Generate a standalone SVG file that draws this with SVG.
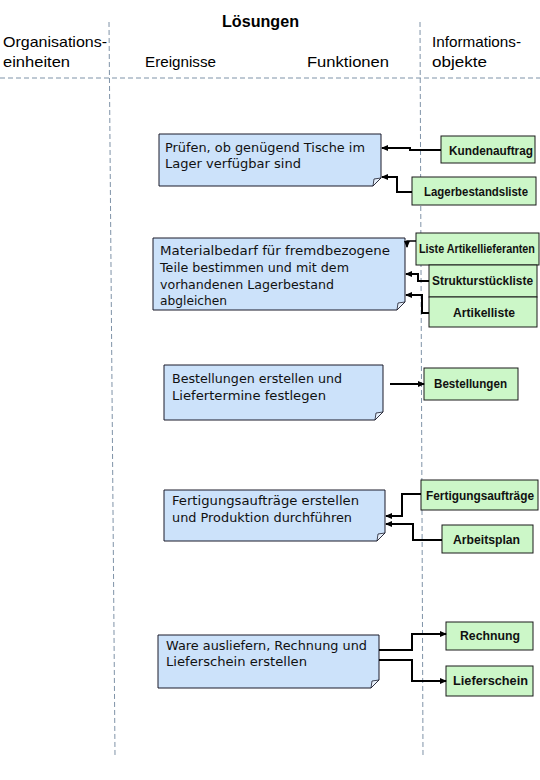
<svg xmlns="http://www.w3.org/2000/svg" width="540" height="780" viewBox="0 0 540 780">
<style>
.hdr{font-family:"Liberation Sans",Arial,sans-serif;font-size:15px;fill:#000}
.ttl{font-family:"Liberation Sans",Arial,sans-serif;font-size:17px;font-weight:bold;fill:#000}
.dash{stroke:#7f93a8;stroke-width:1;stroke-dasharray:5,3;fill:none}
.fn{fill:#cce2fa;stroke:#1a1a2a;stroke-width:1}
.fold{fill:#e8f1fc;stroke:#1a1a2a;stroke-width:0.8}
.ftx{font-family:"DejaVu Sans",Verdana,sans-serif;font-size:12.5px;fill:#111}
.io{fill:#ccf7c8;stroke:#1a1a1a;stroke-width:1}
.itx{font-family:"Liberation Sans",Arial,sans-serif;font-size:12px;font-weight:bold;fill:#111}
.con{stroke:#000;stroke-width:2;fill:none;marker-end:url(#ah)}
</style>
<defs>
<marker id="ah" markerUnits="userSpaceOnUse" markerWidth="7" markerHeight="7" viewBox="0 0 7 7" refX="6" refY="3.5" orient="auto">
<path d="M0,0.5 L7,3.5 L0,6.5 Z" fill="#000"/>
</marker>
</defs>
<rect width="540" height="780" fill="#fff"/>
<g id="grid">
<line class="dash" x1="0" y1="78" x2="540" y2="78"/>
<line class="dash" x1="109" y1="22" x2="115" y2="755"/>
<line class="dash" x1="420" y1="22" x2="423" y2="755"/>
</g>
<g id="headers">
<text class="ttl" x="222" y="27" textLength="77" lengthAdjust="spacingAndGlyphs">Lösungen</text>
<text class="hdr" x="3" y="47" textLength="104" lengthAdjust="spacingAndGlyphs">Organisations-</text>
<text class="hdr" x="3" y="67" textLength="67" lengthAdjust="spacingAndGlyphs">einheiten</text>
<text class="hdr" x="145" y="67" textLength="71" lengthAdjust="spacingAndGlyphs">Ereignisse</text>
<text class="hdr" x="307" y="67" textLength="82" lengthAdjust="spacingAndGlyphs">Funktionen</text>
<text class="hdr" x="432" y="47" textLength="89" lengthAdjust="spacingAndGlyphs">Informations-</text>
<text class="hdr" x="432" y="67" textLength="55" lengthAdjust="spacingAndGlyphs">objekte</text>
</g>
<g id="f1">
<path class="fn" d="M159,134 H381 V178 L373,186 H159 Z"/>
<path class="fold" d="M381,178 L373,186 L374,179 Z"/>
<text class="ftx" x="165" y="152" textLength="200" lengthAdjust="spacingAndGlyphs">Prüfen, ob genügend Tische im</text>
<text class="ftx" x="165" y="168" textLength="136" lengthAdjust="spacingAndGlyphs">Lager verfügbar sind</text>
</g>
<g id="f2">
<path class="fn" d="M153,238 H405 V302 L397,310 H153 Z"/>
<path class="fold" d="M405,302 L397,310 L398,303 Z"/>
<text class="ftx" x="160" y="255" textLength="230" lengthAdjust="spacingAndGlyphs">Materialbedarf für fremdbezogene</text>
<text class="ftx" x="160" y="272" textLength="189" lengthAdjust="spacingAndGlyphs">Teile bestimmen und mit dem</text>
<text class="ftx" x="160" y="289" textLength="174" lengthAdjust="spacingAndGlyphs">vorhandenen Lagerbestand</text>
<text class="ftx" x="160" y="305" textLength="67" lengthAdjust="spacingAndGlyphs">abgleichen</text>
</g>
<g id="f3">
<path class="fn" d="M164,365 H383 V412 L375,420 H164 Z"/>
<path class="fold" d="M383,412 L375,420 L376,413 Z"/>
<text class="ftx" x="172" y="383" textLength="170" lengthAdjust="spacingAndGlyphs">Bestellungen erstellen und</text>
<text class="ftx" x="172" y="400" textLength="154" lengthAdjust="spacingAndGlyphs">Liefertermine festlegen</text>
</g>
<g id="f4">
<path class="fn" d="M164,490 H385 V533 L377,541 H164 Z"/>
<path class="fold" d="M385,533 L377,541 L378,534 Z"/>
<text class="ftx" x="172" y="505" textLength="187" lengthAdjust="spacingAndGlyphs">Fertigungsaufträge erstellen</text>
<text class="ftx" x="172" y="522" textLength="180" lengthAdjust="spacingAndGlyphs">und Produktion durchführen</text>
</g>
<g id="f5">
<path class="fn" d="M158,635 H379 V680 L371,688 H158 Z"/>
<path class="fold" d="M379,680 L371,688 L372,681 Z"/>
<text class="ftx" x="166" y="650" textLength="201" lengthAdjust="spacingAndGlyphs">Ware ausliefern, Rechnung und</text>
<text class="ftx" x="166" y="666" textLength="141" lengthAdjust="spacingAndGlyphs">Lieferschein erstellen</text>
</g>
<g id="i1"><rect class="io" x="441" y="136" width="94" height="27"/><text class="itx" x="449" y="155" textLength="84" lengthAdjust="spacingAndGlyphs">Kundenauftrag</text></g>
<g id="i2"><rect class="io" x="412" y="177" width="124" height="28"/><text class="itx" x="424" y="196" textLength="104" lengthAdjust="spacingAndGlyphs">Lagerbestandsliste</text></g>
<g id="i3"><rect class="io" x="416" y="233" width="123" height="32"/><text class="itx" transform="translate(419,253) scale(0.9,1)" x="0" y="0">Liste Artikellieferanten</text></g>
<g id="i4"><rect class="io" x="429" y="265" width="108" height="32"/><text class="itx" x="432" y="285" textLength="101" lengthAdjust="spacingAndGlyphs">Strukturstückliste</text></g>
<g id="i5"><rect class="io" x="429" y="297" width="108" height="30"/><text class="itx" x="453" y="317" textLength="62" lengthAdjust="spacingAndGlyphs">Artikelliste</text></g>
<g id="i6"><rect class="io" x="424" y="368" width="94" height="32"/><text class="itx" x="434" y="388" textLength="73" lengthAdjust="spacingAndGlyphs">Bestellungen</text></g>
<g id="i7"><rect class="io" x="421" y="480" width="117" height="30"/><text class="itx" x="426" y="500" textLength="108" lengthAdjust="spacingAndGlyphs">Fertigungsaufträge</text></g>
<g id="i8"><rect class="io" x="442" y="525" width="91" height="28"/><text class="itx" x="453" y="544" textLength="67" lengthAdjust="spacingAndGlyphs">Arbeitsplan</text></g>
<g id="i9"><rect class="io" x="446" y="622" width="87" height="28"/><text class="itx" x="460" y="640" textLength="60" lengthAdjust="spacingAndGlyphs">Rechnung</text></g>
<g id="i10"><rect class="io" x="446" y="666" width="87" height="30"/><text class="itx" x="453" y="685" textLength="75" lengthAdjust="spacingAndGlyphs">Lieferschein</text></g>
<g id="connectors">
<path class="con" d="M441,150 H410 V148 H382"/>
<path class="con" d="M412,192 H397 V177 H382"/>
<path class="con" d="M416,241 H407 V247" style="stroke-width:1.5"/>
<path class="con" d="M429,281 H418 V274 H406"/>
<path class="con" d="M429,313 H422 V295 H406"/>
<path class="con" d="M390,384 H424"/>
<path class="con" d="M421,494 H402 V516 H386"/>
<path class="con" d="M442,540 H413 V524 H386"/>
<path class="con" d="M379,650 H412 V634 H446"/>
<path class="con" d="M379,660 H412 V681 H446"/>
</g>
</svg>
